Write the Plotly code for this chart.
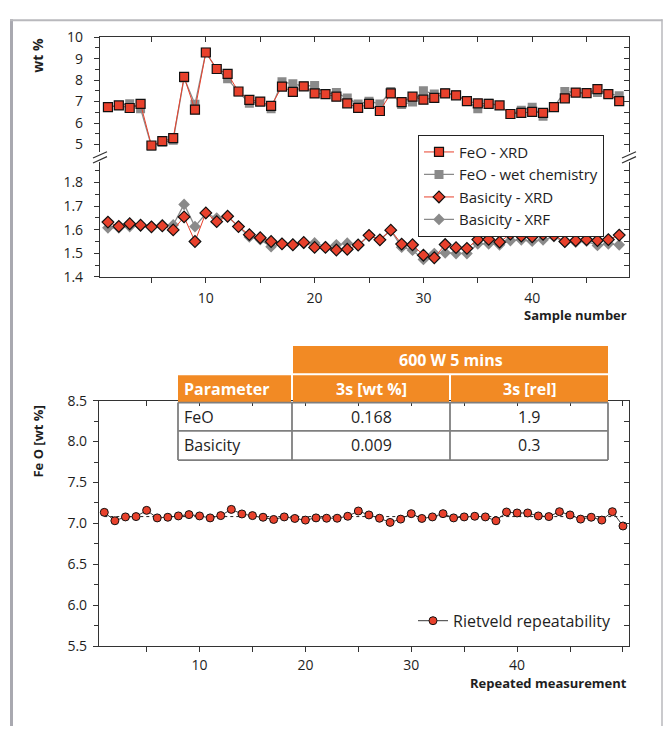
import plotly.graph_objects as go

W, H = 667, 735


def px(x):
    return x / W


def py(y):
    return 1 - y / H


# ---------------- data ----------------
samples = list(range(1, 49))
feo_xrd = [6.74, 6.82, 6.70, 6.89, 4.95, 5.15, 5.29, 8.15, 6.62, 9.29,
           8.52, 8.29, 7.47, 7.08, 7.00, 6.80, 7.70, 7.45, 7.71, 7.38,
           7.35, 7.23, 6.92, 6.71, 6.89, 6.56, 7.38, 6.97, 7.23, 7.09,
           7.17, 7.38, 7.29, 7.02, 6.92, 6.89, 6.82, 6.42, 6.47, 6.52,
           6.47, 6.74, 7.15, 7.42, 7.39, 7.58, 7.35, 7.02]
feo_wet = [6.74, 6.82, 6.90, 6.67, 4.92, 5.10, 5.20, 8.10, 6.87, 9.30,
           8.50, 8.06, 7.45, 6.92, 7.00, 6.67, 7.92, 7.83, 7.72, 7.75,
           7.35, 7.42, 7.17, 6.89, 7.02, 6.89, 7.47, 6.86, 6.98, 7.50,
           7.35, 7.41, 7.32, 7.02, 6.67, 6.92, 6.82, 6.41, 6.59, 6.74,
           6.32, 6.74, 7.47, 7.42, 7.38, 7.42, 7.38, 7.27]
bas_xrd = [1.632, 1.614, 1.625, 1.619, 1.612, 1.616, 1.599, 1.654, 1.550, 1.671,
           1.634, 1.657, 1.613, 1.579, 1.566, 1.550, 1.540, 1.536, 1.546, 1.525,
           1.525, 1.514, 1.517, 1.535, 1.576, 1.557, 1.598, 1.539, 1.536, 1.492,
           1.481, 1.537, 1.524, 1.521, 1.558, 1.559, 1.548, 1.581, 1.573, 1.570,
           1.580, 1.576, 1.550, 1.554, 1.558, 1.554, 1.558, 1.577]
bas_xrf = [1.608, 1.608, 1.613, 1.617, 1.614, 1.621, 1.620, 1.707, 1.613, 1.668,
           1.649, 1.656, 1.613, 1.569, 1.558, 1.528, 1.542, 1.539, 1.542, 1.544,
           1.528, 1.536, 1.543, 1.533, 1.575, 1.557, 1.598, 1.526, 1.513, 1.474,
           1.499, 1.502, 1.499, 1.499, 1.540, 1.540, 1.536, 1.554, 1.557, 1.551,
           1.557, 1.570, 1.547, 1.547, 1.551, 1.533, 1.540, 1.536]

measurements = list(range(1, 51))
rietveld = [7.135, 7.032, 7.079, 7.083, 7.159, 7.067, 7.075, 7.091, 7.107, 7.091,
            7.067, 7.095, 7.171, 7.115, 7.095, 7.075, 7.048, 7.079, 7.060, 7.040,
            7.067, 7.063, 7.063, 7.087, 7.151, 7.103, 7.063, 7.012, 7.052, 7.119,
            7.060, 7.079, 7.119, 7.067, 7.079, 7.087, 7.079, 7.032, 7.139, 7.127,
            7.127, 7.091, 7.083, 7.143, 7.103, 7.052, 7.075, 7.040, 7.143, 6.968]
rietveld_mean = 7.083

# table
table_title = "600 W 5 mins"
table_headers = ["Parameter", "3s [wt %]", "3s [rel]"]
table_params = ["FeO", "Basicity"]
table_s_wt = ["0.168", "0.009"]
table_s_rel = ["1.9", "0.3"]

# ticks
top_x_ticks = [10, 20, 30, 40]
feo_ticks = [5, 6, 7, 8, 9, 10]
bas_ticks = [1.4, 1.5, 1.6, 1.7, 1.8]
bot_x_ticks = [10, 20, 30, 40, 50]
bot_x_labels = ["10", "20", "30", "40", ""]
bot_y_ticks = [5.5, 6.0, 6.5, 7.0, 7.5, 8.0, 8.5]

# ---------------- style ----------------
RED = "#e8412c"
GRAY = "#8a8a8a"
AX = "#333333"
FONT = "Open Sans"
TXT = "#1e1e1e"

fig = go.Figure()

# FeO (upper panel)
fig.add_trace(go.Scatter(
    x=samples, y=feo_wet, xaxis="x", yaxis="y2", mode="lines+markers",
    name="FeO - wet chemistry", legendrank=2,
    line=dict(color=GRAY, width=1.3),
    marker=dict(symbol="square", size=9, color=GRAY, line=dict(width=0))))
fig.add_trace(go.Scatter(
    x=samples, y=feo_xrd, xaxis="x", yaxis="y2", mode="lines+markers",
    name="FeO - XRD", legendrank=1,
    line=dict(color=RED, width=1),
    marker=dict(symbol="square", size=9, color=RED, line=dict(width=1.2, color="#111"))))
# Basicity (lower panel)
fig.add_trace(go.Scatter(
    x=samples, y=bas_xrf, xaxis="x", yaxis="y", mode="lines+markers",
    name="Basicity - XRF", legendrank=4,
    line=dict(color=GRAY, width=1.3),
    marker=dict(symbol="diamond", size=9, color=GRAY, line=dict(width=0))))
fig.add_trace(go.Scatter(
    x=samples, y=bas_xrd, xaxis="x", yaxis="y", mode="lines+markers",
    name="Basicity - XRD", legendrank=3,
    line=dict(color=RED, width=1),
    marker=dict(symbol="diamond", size=9, color=RED, line=dict(width=1.2, color="#111"))))

# Bottom chart
fig.add_trace(go.Scatter(
    x=[measurements[0], measurements[-1]], y=[rietveld_mean, rietveld_mean],
    xaxis="x3", yaxis="y5", mode="lines", showlegend=False, hoverinfo="skip",
    line=dict(color="#222", width=1, dash="dot")))
fig.add_trace(go.Scatter(
    x=measurements, y=rietveld, xaxis="x3", yaxis="y5", mode="lines+markers",
    name="Rietveld repeatability", legend="legend2",
    line=dict(color="#222", width=0.9),
    marker=dict(symbol="circle", size=8, color=RED, line=dict(width=1, color="#111"))))

# empty traces that register the mirrored (inside-tick) axes
for xa, ya in [("x2", "y2"), ("x", "y3"), ("x", "y4"), ("x4", "y5"), ("x3", "y6")]:
    fig.add_trace(go.Scatter(x=[], y=[], xaxis=xa, yaxis=ya, showlegend=False, hoverinfo="skip"))

tickfont = dict(family=FONT, size=14, color=TXT)
base = dict(showgrid=False, zeroline=False, showline=True, linecolor=AX, linewidth=1.2,
            tickcolor=AX, tickwidth=1.2, tickfont=tickfont)

top_xrange = [0.27, 48.9]
feo_range = [10 - (146 - 28) / 22.0, 10]
bas_range = [1.4, 1.4 + (274 - 156) / 242.5]
bot_xrange = [0.5, 50.57]

layout_axes = dict(
    xaxis=dict(base, domain=[px(100), px(629)], anchor="y", range=top_xrange,
               tickmode="array", tickvals=top_x_ticks, ticks="outside", ticklen=5,
               ticklabelstandoff=3,
               minor=dict(tickmode="array", tickvals=[5, 15, 25, 35, 45], ticks="outside",
                          ticklen=5, tickcolor=AX, tickwidth=1.2)),
    xaxis2=dict(base, overlaying="x", anchor="y2", side="top", range=top_xrange,
                tickmode="array", tickvals=[5, 10, 15, 20, 25, 30, 35, 40, 45],
                ticks="inside", ticklen=5, showticklabels=False),
    yaxis=dict(base, domain=[py(274), py(156)], anchor="x", range=bas_range,
               tickmode="array", tickvals=bas_ticks, ticktext=[f"{v:.1f}" for v in bas_ticks],
               ticks="outside", ticklen=5, ticklabelstandoff=8,
               minor=dict(tickmode="array", tickvals=[1.45, 1.55, 1.65, 1.75, 1.85],
                          ticks="outside", ticklen=4, tickcolor=AX, tickwidth=1.2)),
    yaxis2=dict(base, domain=[py(146), py(28)], anchor="x", range=feo_range,
                tickmode="array", tickvals=feo_ticks, ticks="outside", ticklen=5,
                ticklabelstandoff=8,
                minor=dict(tickmode="array", tickvals=[5.5, 6.5, 7.5, 8.5, 9.5],
                           ticks="outside", ticklen=4, tickcolor=AX, tickwidth=1.2)),
    yaxis3=dict(base, overlaying="y", anchor="x", side="right", range=bas_range,
                tickmode="array",
                tickvals=[1.40, 1.45, 1.50, 1.55, 1.60, 1.65, 1.70, 1.75, 1.80, 1.85],
                ticks="inside", ticklen=5, showticklabels=False),
    yaxis4=dict(base, overlaying="y2", anchor="x", side="right", range=feo_range,
                tickmode="array",
                tickvals=[5, 5.5, 6, 6.5, 7, 7.5, 8, 8.5, 9, 9.5, 10],
                ticks="inside", ticklen=5, showticklabels=False),
    xaxis3=dict(base, domain=[px(99), px(629)], anchor="y5", range=bot_xrange,
                tickmode="array", tickvals=bot_x_ticks, ticktext=bot_x_labels,
                ticks="outside", ticklen=5, ticklabelstandoff=1,
                minor=dict(tickmode="array", tickvals=[5, 15, 25, 35, 45], ticks="outside",
                           ticklen=5, tickcolor=AX, tickwidth=1.2)),
    xaxis4=dict(base, overlaying="x3", anchor="y5", side="top", range=bot_xrange,
                tickmode="array", tickvals=[5, 10, 15, 20, 25, 30, 35, 40, 45, 50],
                ticks="inside", ticklen=5, showticklabels=False),
    yaxis5=dict(base, domain=[py(653), py(401)], anchor="x3", range=[5.5, 8.5],
                tickmode="array", tickvals=bot_y_ticks,
                ticktext=[f"{v:.1f}" for v in bot_y_ticks],
                ticks="outside", ticklen=5, ticklabelstandoff=3,
                minor=dict(tickmode="array",
                           tickvals=[5.75, 6.25, 6.75, 7.25, 7.75, 8.25],
                           ticks="outside", ticklen=4, tickcolor=AX, tickwidth=1.2)),
    yaxis6=dict(base, overlaying="y5", anchor="x3", side="right", range=[5.5, 8.5],
                tickmode="array",
                tickvals=[5.5, 5.75, 6.0, 6.25, 6.5, 6.75, 7.0, 7.25, 7.5, 7.75, 8.0, 8.25, 8.5],
                ticks="inside", ticklen=5, showticklabels=False),
)

shapes = []


def line(x0, y0, x1, y1, color, width, layer="above"):
    shapes.append(dict(type="line", xref="paper", yref="paper",
                       x0=px(x0), y0=py(y0), x1=px(x1), y1=py(y1),
                       line=dict(color=color, width=width), layer=layer))


def rect(x0, y0, x1, y1, fill, lcolor=None, lwidth=0):
    shapes.append(dict(type="rect", xref="paper", yref="paper",
                       x0=px(x0), y0=py(y0), x1=px(x1), y1=py(y1),
                       fillcolor=fill, line=dict(color=lcolor or fill, width=lwidth),
                       layer="above"))


# outer frame
line(11.5, 9.5, 11.5, 735, "#a9a9b0", 3)
line(10, 10.5, 662.5, 10.5, "#b9b9bd", 2)
line(662, 9.5, 662, 735, "#b9b9bd", 1.5)

# axis breaks
for bx in (100, 629):
    line(bx - 7, 152, bx + 7, 145.5, AX, 1.2)
    line(bx - 7, 157, bx + 7, 150.5, AX, 1.2)

# table
ORANGE = "#f28a24"
C = [178, 292, 450, 608]
rect(C[1] + 1, 345, C[3], 373, ORANGE)
rect(C[0], 375, C[1] - 1, 403, ORANGE)
rect(C[1] + 1, 375, C[2] - 1, 403, ORANGE)
rect(C[2] + 1, 375, C[3], 403, ORANGE)
BORD = "#7f7f7f"
for yy in (403, 432, 462):
    line(C[0], yy, C[3], yy, BORD, 1.8)
for xx in C:
    line(xx, 403, xx, 462, BORD, 1.8)

annotations = []


def text(x, y, s, size=13, bold=False, color=TXT, xanchor="center", angle=0):
    annotations.append(dict(xref="paper", yref="paper", x=px(x), y=py(y), text=s,
                            showarrow=False, xanchor=xanchor, yanchor="middle",
                            textangle=angle,
                            font=dict(family=FONT, size=size, color=color,
                                      weight="bold" if bold else "normal")))


text(451, 359, table_title, 16, True, "white")
text(182, 389, table_headers[0], 16, True, "white", xanchor="left")
text(371, 389, table_headers[1], 16, True, "white")
text(529, 389, table_headers[2], 16, True, "white")
for i, yy in enumerate((417.5, 447)):
    text(182, yy, table_params[i], 16, False, TXT, xanchor="left")
    text(371, yy, table_s_wt[i], 16, False, TXT)
    text(529, yy, table_s_rel[i], 16, False, TXT)

text(38, 47, "wt %", 14, True, angle=-90)
text(38, 443, "Fe O [wt %]", 13, True, angle=-90)
text(629, 313, "Sample number", 13, True, xanchor="right")
text(629, 691, "Repeated measurement", 13, True, xanchor="right")

fig.update_layout(
    width=W, height=H, margin=dict(l=0, r=0, t=0, b=0),
    paper_bgcolor="white", plot_bgcolor="white",
    font=dict(family=FONT, color=TXT),
    shapes=shapes, annotations=annotations,
    legend=dict(x=px(418), y=py(128), xanchor="left", yanchor="top",
                bordercolor="#222", borderwidth=1, bgcolor="white",
                font=dict(family=FONT, size=15, color=TXT),
                tracegroupgap=0, itemwidth=30),
    legend2=dict(x=px(413), y=py(627), xanchor="left", yanchor="middle",
                 bgcolor="rgba(0,0,0,0)", borderwidth=0,
                 font=dict(family=FONT, size=16, color=TXT)),
    **layout_axes,
)

# the page body's default 8 px margin is removed so the figure fills the window
fig.write_html("out.html", config={"displayModeBar": False},
               post_script="document.body.style.margin='0';")
